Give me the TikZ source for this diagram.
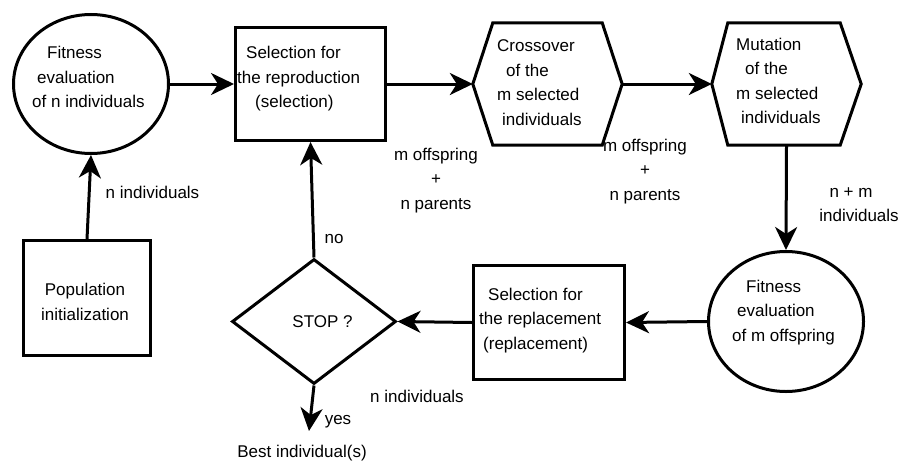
\documentclass[tikz,border=0pt]{standalone}
\usepackage{fontspec}
\setmainfont{Liberation Sans}
\usetikzlibrary{arrows.meta,shapes.geometric}

\tikzset{
  txt/.style={inner sep=0pt, font=\fontsize{17pt}{24.5pt}\selectfont},
  blocktxt/.style={txt, align=left, anchor=west},
  shapeline/.style={draw, line width=3pt},
  procbox/.style={shapeline, rectangle, inner sep=0pt},
  evalell/.style={shapeline, ellipse, inner sep=0pt},
  decide/.style={shapeline, diamond, inner sep=0pt},
  hexframe/.style={rectangle, inner sep=0pt, minimum width=149pt, minimum height=122pt},
  flow/.style={line width=3pt, -{Stealth[length=23pt,width=22pt,inset=7pt]}},
}

\begin{document}
\begin{tikzpicture}[x=1pt, y=-1pt]
\useasboundingbox (0,0) rectangle (901,463);

% shapes
\node[evalell, minimum width=155pt, minimum height=139pt] (evaln) at (91,84) {};
\node[procbox, minimum width=150pt, minimum height=113pt] (repro) at (310.5,84) {};
\node[hexframe] (cross) at (547.5,84) {};
\node[hexframe] (mut) at (786.5,84) {};
\node[evalell, minimum width=155pt, minimum height=140pt] (evalm) at (786,321.5) {};
\node[procbox, minimum width=151pt, minimum height=114pt] (repl) at (549,322.5) {};
\node[decide, minimum width=164pt, minimum height=125pt] (stop) at (314,321.5) {};
\node[procbox, minimum width=127pt, minimum height=115pt] (pop) at (87,298) {};

% hexagonal outlines
\draw[shapeline, line join=miter]
  ([xshift=20pt]cross.north west) -- ([xshift=-20pt]cross.north east) -- (cross.east)
  -- ([xshift=-20pt]cross.south east) -- ([xshift=20pt]cross.south west) -- (cross.west) -- cycle;
\draw[shapeline, line join=miter]
  ([xshift=16pt]mut.north west) -- ([xshift=-21pt]mut.north east) -- (mut.east)
  -- ([xshift=-21pt]mut.south east) -- ([xshift=16pt]mut.south west) -- (mut.west) -- cycle;

% texts inside the shapes
\node[blocktxt] (evalntxt) at (32,77) {\hspace*{15pt}Fitness\\\hspace*{5pt}evaluation\\of n individuals};
\node[blocktxt] (reprotxt) at (237,79) {\hspace*{9pt}Selection for\\the reproduction\\\hspace*{18pt}(selection)};
\node[blocktxt] (crosstxt) at (497,82.5) {Crossover\\\hspace*{9pt}of the\\m selected\\\hspace*{5pt}individuals};
\node[blocktxt] (muttxt) at (736,81) {Mutation\\\hspace*{9pt}of the\\m selected\\\hspace*{5pt}individuals};
\node[blocktxt] (evalmtxt) at (732,312.5) {\hspace*{14pt}Fitness\\\hspace*{5pt}evaluation\\of m offspring};
\node[blocktxt] (repltxt) at (479,320.5) {\hspace*{9pt}Selection for\\the replacement\\\hspace*{4pt}(replacement)};
\node[txt] (stoptxt) at (322.5,322) {STOP ?};
\node[txt, align=center] (poptxt) at (85,302) {Population\\initialization};

% end point of the final exit
\coordinate (best) at (309,431);

% connectors
\draw[flow] (pop.north) -- (evaln.south);
\draw[flow] (evaln.east) -- (repro.west);
\draw[flow] (repro.east) -- (cross.west);
\draw[flow] (cross.east) -- (mut.west);
\draw[flow] (mut.south) -- (evalm.north);
\draw[flow] (evalm.west) -- (repl.east);
\draw[flow] (repl.west) -- (stop.east);
\draw[flow] (stop.north) -- (repro.south);
\draw[flow] (stop.south) -- (best);

% connector labels
\node[txt] (lbln) at (152.5,192) {n individuals};
\node[txt, align=center] (lblrc) at (436,180.5) {m offspring\\+\hspace*{26pt}\\n parents};
\node[txt, align=center] (lblcm) at (645,171.5) {m offspring\\+\hspace*{24pt}\\n parents};
\node[txt, align=center] (lblnm) at (859,204.5) {n + m\hspace*{16pt}\\individuals};
\node[txt] (lblno) at (334,239) {no};
\node[txt] (lblyes) at (338,422) {yes};
\node[txt] (lblbest) at (302,453) {Best individual(s)};
\node[txt] (lblrepl) at (417,396) {n individuals};
\end{tikzpicture}
\end{document}
